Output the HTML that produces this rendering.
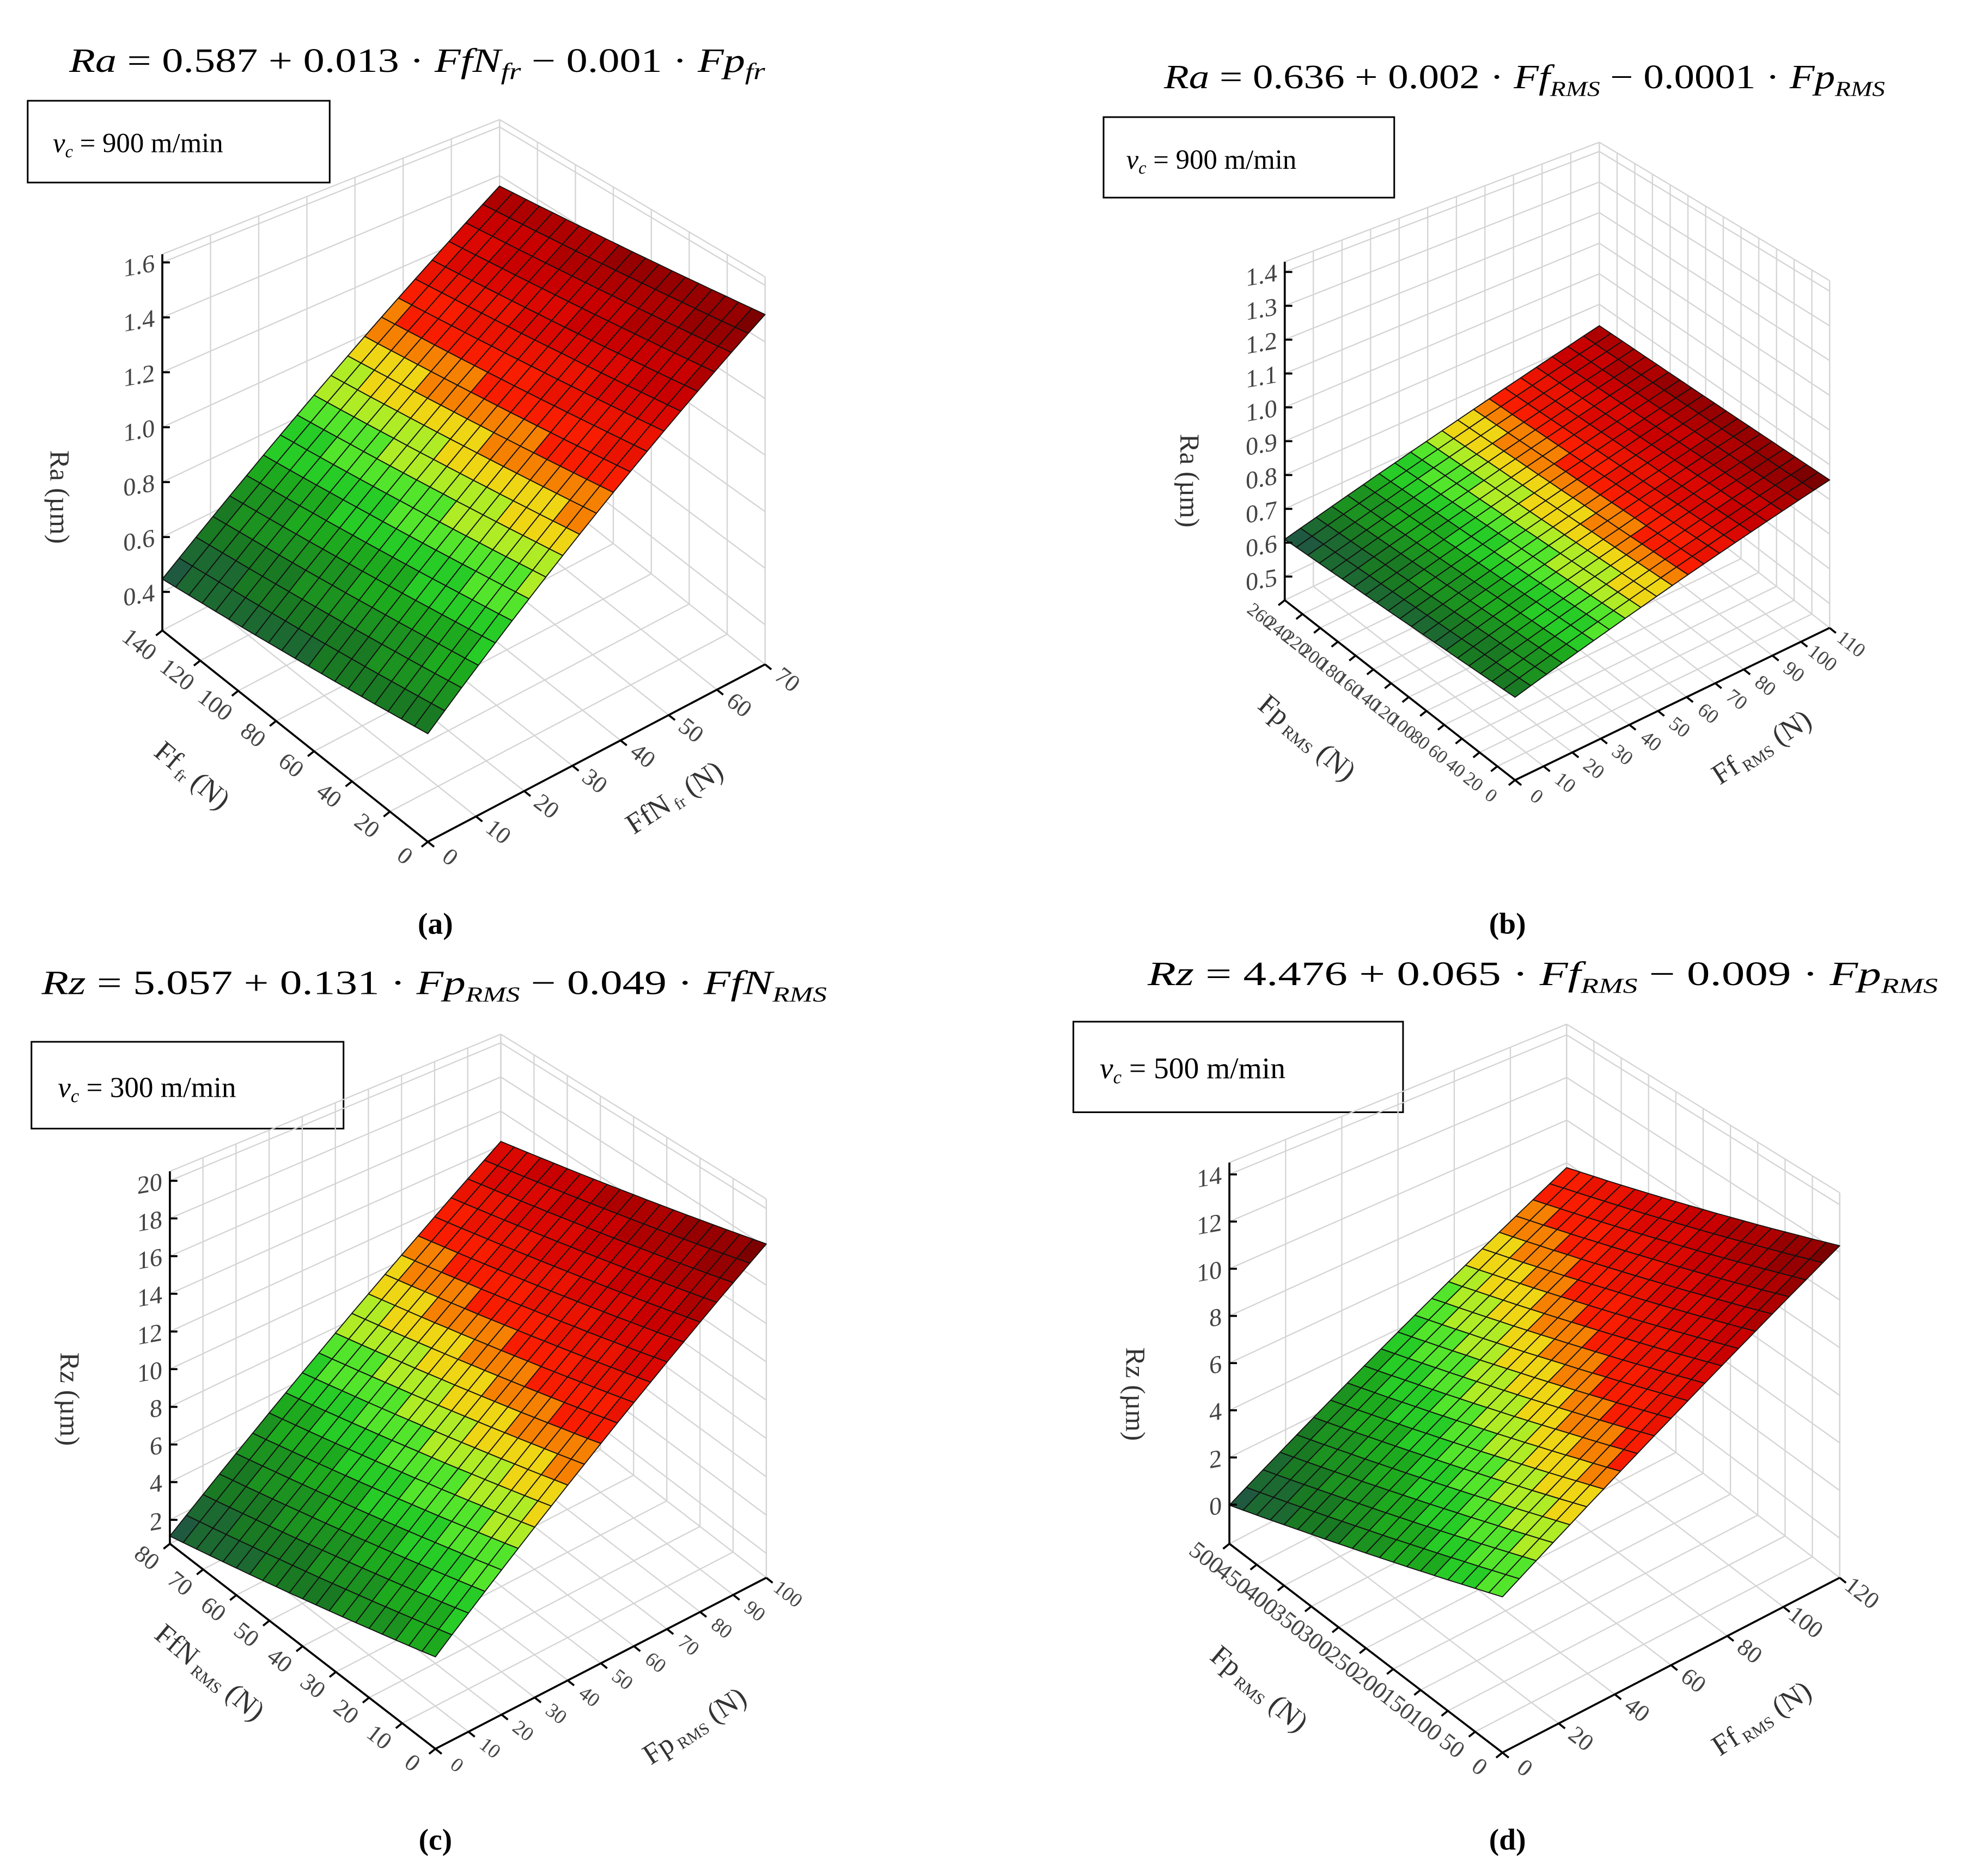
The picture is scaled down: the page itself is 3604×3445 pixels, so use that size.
<!DOCTYPE html>
<html><head><meta charset="utf-8">
<style>
html,body{margin:0;padding:0;background:#fff;}
svg{display:block;}
text{font-family:"Liberation Serif",serif;}
</style></head>
<body>
<svg id="fig" width="3604" height="3445" viewBox="0 0 1560 1491" xmlns="http://www.w3.org/2000/svg">
<rect x="0" y="0" width="1560" height="1491" fill="#fff"/>

<text x="55" y="57" font-size="27" textLength="553" lengthAdjust="spacingAndGlyphs"><tspan font-style="italic">Ra</tspan> = 0.587 + 0.013 · <tspan font-style="italic">FfN</tspan><tspan font-style="italic" font-size="19" dy="6">fr</tspan><tspan dy="-6"> − 0.001 · </tspan><tspan font-style="italic">Fp</tspan><tspan font-style="italic" font-size="19" dy="6">fr</tspan></text>
<text x="925" y="70" font-size="27" textLength="573" lengthAdjust="spacingAndGlyphs"><tspan font-style="italic">Ra</tspan> = 0.636 + 0.002 · <tspan font-style="italic">Ff</tspan><tspan font-style="italic" font-size="17" dy="6">RMS</tspan><tspan dy="-6"> − 0.0001 · </tspan><tspan font-style="italic">Fp</tspan><tspan font-style="italic" font-size="17" dy="6">RMS</tspan></text>
<text x="33" y="790" font-size="27" textLength="624" lengthAdjust="spacingAndGlyphs"><tspan font-style="italic">Rz</tspan> = 5.057 + 0.131 · <tspan font-style="italic">Fp</tspan><tspan font-style="italic" font-size="17" dy="6">RMS</tspan><tspan dy="-6"> − 0.049 · </tspan><tspan font-style="italic">FfN</tspan><tspan font-style="italic" font-size="17" dy="6">RMS</tspan></text>
<text x="912" y="783" font-size="27" textLength="628" lengthAdjust="spacingAndGlyphs"><tspan font-style="italic">Rz</tspan> = 4.476 + 0.065 · <tspan font-style="italic">Ff</tspan><tspan font-style="italic" font-size="17" dy="6">RMS</tspan><tspan dy="-6"> − 0.009 · </tspan><tspan font-style="italic">Fp</tspan><tspan font-style="italic" font-size="17" dy="6">RMS</tspan></text>

<g><rect x="22" y="80" width="240" height="65" fill="#fff" stroke="#000" stroke-width="1.3"/><text x="42" y="121" font-size="22"><tspan font-style="italic">v</tspan><tspan font-style="italic" font-size="14" dy="4">c</tspan><tspan dy="-4"> = 900 m/min</tspan></text></g>
<g><rect x="877" y="93" width="231" height="64" fill="#fff" stroke="#000" stroke-width="1.3"/><text x="895" y="134" font-size="22"><tspan font-style="italic">v</tspan><tspan font-style="italic" font-size="14" dy="4">c</tspan><tspan dy="-4"> = 900 m/min</tspan></text></g>
<g><rect x="25" y="828" width="248" height="69" fill="#fff" stroke="#000" stroke-width="1.3"/><text x="46" y="872" font-size="23"><tspan font-style="italic">v</tspan><tspan font-style="italic" font-size="15" dy="4">c</tspan><tspan dy="-4"> = 300 m/min</tspan></text></g>
<g><rect x="853" y="812" width="262" height="72" fill="#fff" stroke="#000" stroke-width="1.3"/><text x="874" y="857" font-size="24"><tspan font-style="italic">v</tspan><tspan font-style="italic" font-size="15" dy="4">c</tspan><tspan dy="-4"> = 500 m/min</tspan></text></g>

<text x="346" y="742" font-size="24" font-weight="bold" text-anchor="middle">(a)</text>
<text x="1198" y="742" font-size="24" font-weight="bold" text-anchor="middle">(b)</text>
<text x="346" y="1470" font-size="24" font-weight="bold" text-anchor="middle">(c)</text>
<text x="1198" y="1470" font-size="24" font-weight="bold" text-anchor="middle">(d)</text>

<g id="plots"></g>
</svg>
<script>
const intercepts = [0.587, 0.636, 5.057, 4.476];
const rightCoefs = [0.013, 0.002, 0.131, 0.065];
const leftCoefs = [-0.001, -0.0001, -0.049, -0.009];
const rightTicksA = [0,10,20,30,40,50,60,70];
const leftTicksA = [0,20,40,60,80,100,120,140];
const zTicksA = [0.4,0.6,0.8,1.0,1.2,1.4,1.6];
const rightTicksB = [0,10,20,30,40,50,60,70,80,90,100,110];
const leftTicksB = [0,20,40,60,80,100,120,140,160,180,200,220,240,260];
const zTicksB = [0.5,0.6,0.7,0.8,0.9,1.0,1.1,1.2,1.3,1.4];
const rightTicksC = [0,10,20,30,40,50,60,70,80,90,100];
const leftTicksC = [0,10,20,30,40,50,60,70,80];
const zTicksC = [2,4,6,8,10,12,14,16,18,20];
const rightTicksD = [0,20,40,60,80,100,120];
const leftTicksD = [0,50,100,150,200,250,300,350,400,450,500];
const zTicksD = [0,2,4,6,8,10,12,14];
const zLabelsA = ["0.4","0.6","0.8","1.0","1.2","1.4","1.6"];
const zLabelsB = ["0.5","0.6","0.7","0.8","0.9","1.0","1.1","1.2","1.3","1.4"];

const panels = [
 {id:'a', O:[340,669], L:[129,501], R:[608,528], hO:360, hL:299, hR:308, hB:265, zmin:0.26, zmax:1.63,
  rT:rightTicksA, lT:leftTicksA, zT:zTicksA, zL:zLabelsA, zTitle:'Ra (µm)', zTitlePos:[40,395],
  lTitle:['Ff',' fr',' (N)'], lTitlePos:[148,622], rTitle:['FfN',' fr',' (N)'], rTitlePos:[540,640]},
 {id:'b', O:[1204,620], L:[1021,477], R:[1454,499], hO:320, hL:269, hR:276, hB:243, zmin:0.43, zmax:1.43,
  rT:rightTicksB, lT:leftTicksB, zT:zTicksB, zL:zLabelsB, zTitle:'Ra (µm)', zTitlePos:[938,382],
  lTitle:['Fp',' RMS',' (N)'], lTitlePos:[1034,592], rTitle:['Ff',' RMS',' (N)'], rTitlePos:[1404,600]},
 {id:'c', O:[346,1390], L:[135,1227], R:[609,1254], hO:334, hL:296, hR:301, hB:269, zmin:0.73, zmax:20.5,
  rT:rightTicksC, lT:leftTicksC, zT:zTicksC, zL:null, zTitle:'Rz (µm)', zTitlePos:[48,1112],
  lTitle:['FfN',' RMS',' (N)'], lTitlePos:[162,1335], rTitle:['Fp',' RMS',' (N)'], rTitlePos:[556,1378]},
 {id:'d', O:[1194,1393], L:[977,1227], R:[1462,1254], hO:326, hL:303, hR:306, hB:274, zmin:-1.66, zmax:14.5,
  rT:rightTicksD, lT:leftTicksD, zT:zTicksD, zL:null, zTitle:'Rz (µm)', zTitlePos:[895,1108],
  lTitle:['Fp',' RMS',' (N)'], lTitlePos:[996,1348], rTitle:['Ff',' RMS',' (N)'], rTitlePos:[1404,1372]}
];

const NS='http://www.w3.org/2000/svg';
const root=document.getElementById('plots');
function mk(tag, attrs, parent){const e=document.createElementNS(NS,tag);for(const k in attrs)e.setAttribute(k,attrs[k]);parent.appendChild(e);return e;}

const cstops=[[0,[31,90,64]],[0.12,[25,120,35]],[0.25,[30,170,30]],[0.35,[45,225,45]],[0.42,[150,235,40]],[0.48,[235,240,30]],[0.55,[245,150,0]],[0.62,[250,30,0]],[0.8,[205,0,0]],[1,[125,0,0]]];
function colorAt(t){t=Math.max(0,Math.min(1,t));t=Math.round(t*16)/16;
 for(let i=1;i<cstops.length;i++){if(t<=cstops[i][0]){const a=cstops[i-1],b=cstops[i];const f=(t-a[0])/(b[0]-a[0]);
  const c=a[1].map((v,k)=>Math.round(v+(b[1][k]-v)*f));return 'rgb('+c.join(',')+')';}}
 return 'rgb(125,0,0)';}

panels.forEach((P,pi)=>{
 const g=mk('g',{},root);
 
 
 const xmax=P.rT[P.rT.length-1], ymax=P.lT[P.lT.length-1];
 function proj(u,v,w){
  const bx=P.O[0]+u*(P.R[0]-P.O[0])+v*(P.L[0]-P.O[0]);
  const by=P.O[1]+u*(P.R[1]-P.O[1])+v*(P.L[1]-P.O[1]);
  const h=(1-u)*(1-v)*P.hO+u*(1-v)*P.hR+(1-u)*v*P.hL+u*v*P.hB;
  return [bx, by-w*h];
 }
 const wz=z=>(z-P.zmin)/(P.zmax-P.zmin);
 function line(a,b,attrs,name){const l=mk('line',Object.assign({x1:a[0].toFixed(1),y1:a[1].toFixed(1),x2:b[0].toFixed(1),y2:b[1].toFixed(1)},attrs),g);
  
  }
 const gs={stroke:'#d4d4d4','stroke-width':1};
 P.rT.forEach(t=>{const u=t/xmax;line(proj(u,1,0),proj(u,1,1),gs,'gridline');});
 P.zT.forEach(z=>{const w=wz(z);line(proj(0,1,w),proj(1,1,w),gs,'gridline');line(proj(1,0,w),proj(1,1,w),gs,'gridline');});
 P.lT.forEach(t=>{const v=t/ymax;line(proj(1,v,0),proj(1,v,1),gs,'gridline');});
 P.rT.forEach(t=>{const u=t/xmax;line(proj(u,0,0),proj(u,1,0),gs,'gridline');});
 P.lT.forEach(t=>{const v=t/ymax;line(proj(0,v,0),proj(1,v,0),gs,'gridline');});
 line(proj(0,1,1),proj(1,1,1),gs,'wall-edge');line(proj(1,0,1),proj(1,1,1),gs,'wall-edge');
 line(proj(1,1,0),proj(1,1,1),gs,'wall-edge');line(proj(1,0,0),proj(1,0,1),gs,'wall-edge');

 const c0=intercepts[pi], cx=rightCoefs[pi], cy=leftCoefs[pi];
 const zc=[c0, c0+cx*xmax, c0+cy*ymax, c0+cx*xmax+cy*ymax];
 const smin=Math.min(...zc), smax=Math.max(...zc);
 const N=20;
 const sg=mk('g',{},g);
 
 
 for(let i=N-1;i>=0;i--){for(let j=N-1;j>=0;j--){
  const pts=[[i,j],[i+1,j],[i+1,j+1],[i,j+1]].map(([a,b])=>{const u=a/N,v=b/N;const z=c0+cx*u*xmax+cy*v*ymax;return proj(u,v,wz(z));});
  const zm=c0+cx*(i+0.5)/N*xmax+cy*(j+0.5)/N*ymax;
  const poly=mk('polygon',{points:pts.map(p=>p[0].toFixed(1)+','+p[1].toFixed(1)).join(' '),fill:colorAt((zm-smin)/(smax-smin)),stroke:'#111','stroke-width':0.8,'stroke-linejoin':'round'},sg);
  
  
 }}

 const ax={stroke:'#000','stroke-width':1.6};
 line(P.O,P.L,ax,'left-axis-line');
 line(P.O,P.R,ax,'right-axis-line');
 line(proj(0,1,0),proj(0,1,1),ax,'z-axis-line');
 P.zT.forEach((z,k)=>{const p=proj(0,1,wz(z));line(p,[p[0]+6,p[1]],ax,'z-tick');
  const t=mk('text',{x:0,y:0,'font-size':20,'text-anchor':'end',fill:'#444',transform:'translate('+(p[0]-6).toFixed(1)+','+(p[1]+7).toFixed(1)+') skewY(-10)'},g);
  
  
  t.textContent=P.zL?P.zL[k]:String(z);});
 const lfs=P.lT.length>11?15:19;
 P.lT.forEach(tv=>{const p=proj(0,tv/ymax,0);line(p,[p[0]-5,p[1]+4],ax,'left-tick');
  const t=mk('text',{x:0,y:0,'font-size':lfs,'text-anchor':'middle',fill:'#444',transform:'translate('+(p[0]-22).toFixed(1)+','+(p[1]+16).toFixed(1)+') rotate(38)'},g);
  
  
  t.textContent=String(tv);});
 const rfs=P.rT.length>10?16:19;
 P.rT.forEach(tv=>{const p=proj(tv/xmax,0,0);line(p,[p[0]+5,p[1]+4],ax,'right-tick');
  const t=mk('text',{x:0,y:0,'font-size':rfs,'text-anchor':'middle',fill:'#444',transform:'translate('+(p[0]+14).toFixed(1)+','+(p[1]+17).toFixed(1)+') rotate(38)'},g);
  
  
  t.textContent=String(tv);});
 const zt=mk('text',{x:0,y:0,'font-size':22,'text-anchor':'middle',fill:'#333',transform:'translate('+P.zTitlePos[0]+','+P.zTitlePos[1]+') rotate(90)'},g);
 
 
 zt.textContent=P.zTitle;
 function titled(pos,parts,rot,name){
  const t=mk('text',{x:0,y:0,'font-size':23,'text-anchor':'middle',fill:'#333',transform:'translate('+pos[0]+','+pos[1]+') rotate('+rot+')'},g);
  
  
  const a=mk('tspan',{},t);a.textContent=parts[0];
  const b=mk('tspan',{'font-size':13,dy:3},t);b.textContent=parts[1];
  const c=mk('tspan',{dy:-3},t);c.textContent=parts[2];
 }
 titled(P.lTitlePos,P.lTitle,40,'left-axis-title');
 titled(P.rTitlePos,P.rTitle,-33,'right-axis-title');
});
</script>
</body></html>
